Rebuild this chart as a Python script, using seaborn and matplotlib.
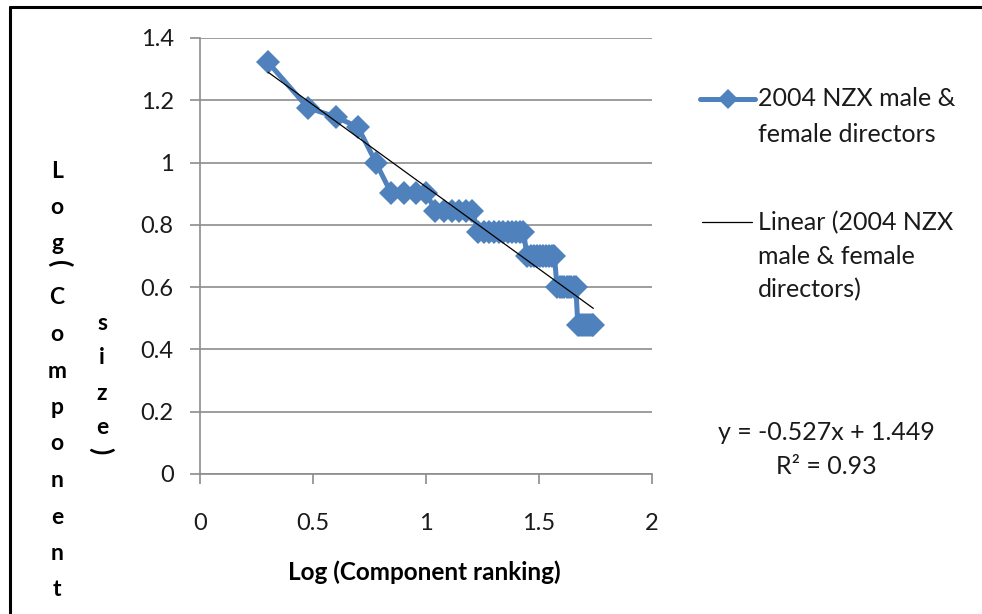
import numpy as np
import pandas as pd
import seaborn as sns
import matplotlib.pyplot as plt
from matplotlib.lines import Line2D

# rank of each component and its size (number of directors)
ranking = [2, 3, 4, 5, 6, 7, 8, 9, 10, 11, 12, 13, 14, 15, 16, 17, 18, 19, 20,
           21, 22, 23, 24, 25, 26, 27, 28, 29, 30, 31, 32, 33, 34, 35, 36, 37,
           38, 39, 40, 41, 42, 43, 44, 45, 46, 47, 48, 49, 50, 51, 52, 53, 54, 55]
component_size = [21, 15, 14, 13, 10,
                  8, 8, 8, 8,
                  7, 7, 7, 7, 7, 7,
                  6, 6, 6, 6, 6, 6, 6, 6, 6, 6, 6,
                  5, 5, 5, 5, 5, 5, 5, 5, 5, 5,
                  4, 4, 4, 4, 4, 4, 4, 4, 4,
                  3, 3, 3, 3, 3, 3, 3, 3, 3]

# linear trend as reported on the chart
trend_slope = -0.527
trend_intercept = 1.449
equation_text = "y = -0.527x + 1.449"
r2_text = "R² = 0.93"

x_ticks = [0, 0.5, 1, 1.5, 2]
x_tick_labels = ["0", "0.5", "1", "1.5", "2"]
y_ticks = [0, 0.2, 0.4, 0.6, 0.8, 1.0, 1.2, 1.4]
y_tick_labels = ["0", "0.2", "0.4", "0.6", "0.8", "1", "1.2", "1.4"]

series_name = ["2004 NZX male &", "female directors"]
trend_name = ["Linear (2004 NZX", "male & female", "directors)"]

df = pd.DataFrame({"log_rank": np.log10(ranking),
                   "log_size": np.log10(component_size)})

sns.set_theme(style="white")
plt.rcParams["font.family"] = ["Lato", "DejaVu Sans"]

W, H = 982, 614
BLUE = "#4F81BD"
GREY = "#8c8c8c"
TXT = "#1a1a1a"
FS = 18


def fx(px):
    return px / W


def fy(py):
    return 1 - py / H


fig = plt.figure(figsize=(W / 100, H / 100), dpi=100)
ax = fig.add_axes([fx(200), fy(474), fx(652) - fx(200), fy(38) - fy(474)])

sns.lineplot(data=df, x="log_rank", y="log_size", ax=ax, color=BLUE,
             linewidth=3.6, marker="D", markersize=12, markeredgewidth=0,
             legend=False)

trend_x = [df["log_rank"].min(), df["log_rank"].max()]
trend_y = [trend_slope * v + trend_intercept for v in trend_x]
sns.lineplot(x=trend_x, y=trend_y, ax=ax, color="black", linewidth=0.9)

ax.set_xlim(0, 2)
ax.set_ylim(0, 1.4)
ax.set_xticks(x_ticks)
ax.set_xticklabels(x_tick_labels)
ax.set_yticks(y_ticks)
ax.set_yticklabels(y_tick_labels)
ax.set_xlabel("")
ax.set_ylabel("")

ax.yaxis.grid(True, color=GREY, linewidth=1.2)
ax.xaxis.grid(False)
ax.set_axisbelow(True)
for s in ["top", "right"]:
    ax.spines[s].set_visible(False)
for s in ["left", "bottom"]:
    ax.spines[s].set_color(GREY)
    ax.spines[s].set_linewidth(1.2)
ax.tick_params(bottom=True, left=True, direction="out", length=7, width=1.2,
               color=GREY, labelsize=17, labelcolor=TXT)
ax.tick_params(axis="x", pad=21)
ax.tick_params(axis="y", pad=12)

# x axis title
fig.text(fx(424), fy(572), "Log (Component ranking)", ha="center", va="center",
         fontsize=17.5, fontweight="bold", color="black")


# stacked y axis title, letter by letter as in the original
def stack(letters, x, y0, step):
    for i, ch in enumerate(letters):
        fig.text(fx(x), fy(y0 + i * step), ch, ha="center", va="center",
                 fontsize=16.5, fontweight="bold", color="black")


stack("Log", 57, 172, 36)
stack("Component", 57, 298, 36.5)
stack("size", 102, 323, 35)
fig.text(fx(60), fy(264), "(", rotation=-90, ha="center", va="center",
         fontsize=19, fontweight="bold", color="black")
fig.text(fx(101), fy(451), ")", rotation=-90, ha="center", va="center",
         fontsize=19, fontweight="bold", color="black")


def text_lines(lines, x, y0, step):
    for i, line in enumerate(lines):
        fig.text(fx(x), fy(y0 + i * step), line, ha="left", va="center",
                 fontsize=FS, color=TXT)


# legend, drawn by hand to keep Excel's layout
fig.add_artist(Line2D([fx(700), fx(755)], [fy(99), fy(99)], color=BLUE,
                      linewidth=3.6, transform=fig.transFigure))
fig.add_artist(Line2D([fx(728)], [fy(99)], color=BLUE, marker="D",
                      markersize=10, markeredgewidth=0, transform=fig.transFigure))
text_lines(series_name, 758, 99, 36)
fig.add_artist(Line2D([fx(702), fx(752)], [fy(222), fy(222)], color="black",
                      linewidth=0.9, transform=fig.transFigure))
text_lines(trend_name, 758, 223, 33.5)

# trend equation
fig.text(fx(826), fy(432), equation_text, ha="center", va="center",
         fontsize=FS, color=TXT)
fig.text(fx(826), fy(467), r2_text, ha="center", va="center",
         fontsize=FS, color=TXT)

# frame edges visible in the original crop
fig.add_artist(Line2D([fx(10), 1], [fy(7), fy(7)], color="black", linewidth=2.2,
                      transform=fig.transFigure))
fig.add_artist(Line2D([fx(10), fx(10)], [fy(7), 0], color="black",
                      linewidth=2.2, transform=fig.transFigure))

fig.savefig("out.png", dpi=100)
plt.close(fig)
